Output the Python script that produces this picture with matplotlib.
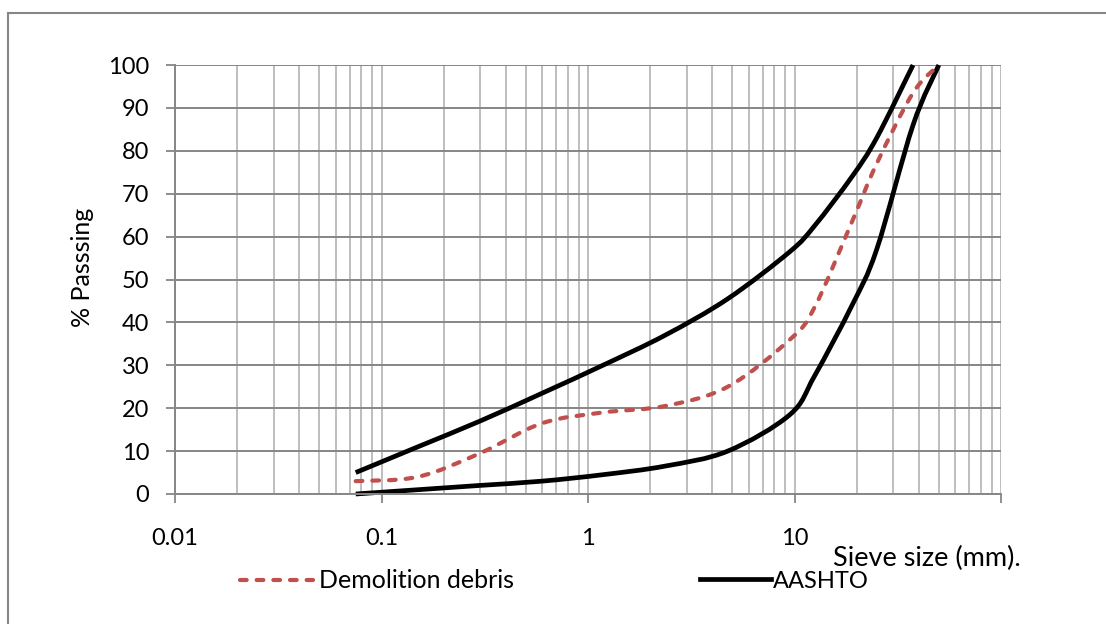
import numpy as np
import matplotlib.pyplot as plt
from matplotlib.path import Path
from matplotlib.patches import PathPatch
from matplotlib.lines import Line2D

plt.rcParams['font.family'] = ['Lato', 'DejaVu Sans']

# sieve sizes (mm) and % passing
sieve = [0.075, 0.15, 0.3, 0.6, 1.18, 2.36, 4.75, 9.5, 12.5, 19, 25, 37.5, 50]
debris = [3, 4, 9.5, 16.5, 19, 20.5, 25, 36, 43.5, 63.5, 77, 93.5, 100]
aashto_upper_x = [0.075, 0.15, 0.3, 0.6, 1.18, 2.36, 4.75, 9.5, 12.5, 19, 25, 37.5]
aashto_upper = [5, 11, 17, 23.5, 30, 37, 45.5, 56.5, 62.5, 74, 83, 100]
aashto_lower = [0, 1, 2, 3, 4.5, 6.5, 10, 18.5, 27.5, 44, 57, 86, 100]

xticks = [0.01, 0.1, 1, 10, 100]
xticklabels = ['0.01', '0.1', '1', '10', '']

RED = '#C0504D'
W, H = 1106, 624


def smooth_path(xs, ys):
    # Catmull-Rom style bezier through the points, built in log-x space
    lx = np.log10(xs)
    ys = np.asarray(ys, float)
    n = len(lx)
    verts = [(xs[0], ys[0])]
    codes = [Path.MOVETO]
    for i in range(n - 1):
        p0 = max(i - 1, 0)
        p3 = min(i + 2, n - 1)
        c1x = lx[i] + (lx[i + 1] - lx[p0]) / 6
        c1y = ys[i] + (ys[i + 1] - ys[p0]) / 6
        c2x = lx[i + 1] - (lx[p3] - lx[i]) / 6
        c2y = ys[i + 1] - (ys[p3] - ys[i]) / 6
        verts += [(10 ** c1x, c1y), (10 ** c2x, c2y), (xs[i + 1], ys[i + 1])]
        codes += [Path.CURVE4] * 3
    return Path(verts, codes)


fig = plt.figure(figsize=(W / 100, H / 100), dpi=100)
ax = fig.add_axes([175 / W, (H - 494) / H, (1001 - 175) / W, (494 - 65) / H])

ax.set_xscale('log')
ax.set_xlim(0.01, 100)
ax.set_ylim(0, 100)
ax.set_yticks(range(0, 101, 10))
ax.set_xticks(xticks)
ax.set_xticklabels(xticklabels)
ax.minorticks_on()
ax.tick_params(which='minor', length=0)
ax.tick_params(axis='y', which='minor', left=False)
ax.tick_params(which='major', direction='out', length=6.5, width=1.3,
               color='#868686', labelsize=17)
ax.tick_params(axis='y', pad=12)
ax.tick_params(axis='x', pad=18)

ax.grid(True, axis='x', which='both', color='#BEBEBE', lw=1.4)
ax.grid(True, axis='y', which='major', color='#868686', lw=1.4)
ax.set_axisbelow(True)
for s in ['top', 'right']:
    ax.spines[s].set_visible(False)
for s in ['left', 'bottom']:
    ax.spines[s].set_color('#868686')
    ax.spines[s].set_linewidth(1.4)

ax.add_patch(PathPatch(smooth_path(aashto_upper_x, aashto_upper), fill=False,
                       ec='black', lw=3.4, capstyle='butt', clip_on=False))
ax.add_patch(PathPatch(smooth_path(sieve, aashto_lower), fill=False,
                       ec='black', lw=3.4, capstyle='butt', clip_on=False))
ax.add_patch(PathPatch(smooth_path(sieve, debris), fill=False, ec=RED,
                       lw=3.0, linestyle=(0, (1.6, 2.4)), capstyle='round',
                       clip_on=False))

fig.text(83 / W, 1 - 267 / H, '% Passsing', rotation=90, fontsize=18,
         ha='center', va='center')
fig.text(833 / W, 1 - 558 / H, 'Sieve size (mm).', fontsize=19.5,
         ha='left', va='center')

h_red = Line2D([], [], color=RED, lw=3.0, linestyle=(0, (1.6, 2.4)),
               dash_capstyle='round')
h_black = Line2D([], [], color='black', lw=3.4)
fig.legend([h_red], ['Demolition debris'], loc='center left',
           bbox_to_anchor=(240 / W, 1 - 581 / H), frameon=False, fontsize=18,
           handlelength=2.9, handletextpad=0.25, borderpad=0, borderaxespad=0)
fig.legend([h_black], ['AASHTO'], loc='center left',
           bbox_to_anchor=(700 / W, 1 - 581 / H), frameon=False, fontsize=17,
           handlelength=3.0, handletextpad=0.1, borderpad=0, borderaxespad=0)

# chart frame
fig.add_artist(Line2D([7.5 / W, 1], [1 - 12.7 / H] * 2, color='#868686', lw=1.5))
fig.add_artist(Line2D([7.5 / W] * 2, [0, 1 - 12.7 / H], color='#868686', lw=1.5))

fig.savefig('out.png', dpi=100)
